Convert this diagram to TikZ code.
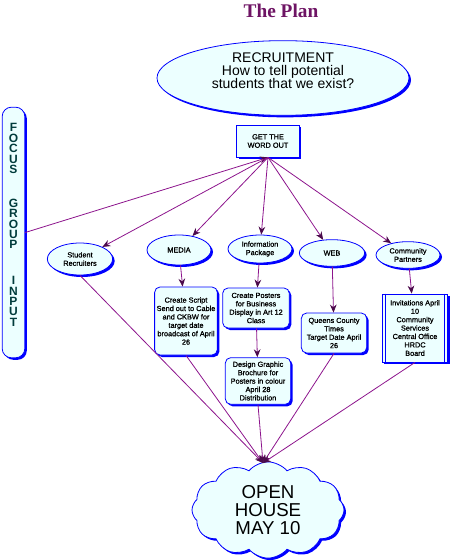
\documentclass[tikz,border=0pt]{standalone}
\usepackage{fontspec}
\setmainfont{Liberation Serif}
\setsansfont{Liberation Sans}
\newfontfamily\boxfont{Liberation Sans}[FakeBold=1]
\usetikzlibrary{shapes.geometric,shapes.symbols,shadows,arrows.meta}
\definecolor{cyanfill}{RGB}{236,255,255}
\definecolor{edgeblue}{RGB}{0,0,255}
\definecolor{linkpurple}{RGB}{140,20,140}
\definecolor{tippurple}{RGB}{75,10,75}
\definecolor{titlepurple}{RGB}{110,20,100}
\definecolor{lettercol}{RGB}{0,60,60}
\begin{document}
\begin{tikzpicture}
    [
        x=0.75pt, y=-0.75pt,
        small/.style={font=\boxfont\fontsize{5.5}{6.3}\selectfont},
        blueshadow/.style={drop shadow={shadow xshift=1.5pt, shadow yshift=-1.5pt, fill=edgeblue, opacity=1}},
        bubble/.style={ellipse, draw=edgeblue, fill=cyanfill, inner sep=0pt, line width=0.6pt, blueshadow, align=center},
        task/.style={rectangle, rounded corners=4pt, draw=edgeblue, fill=cyanfill, line width=0.6pt, blueshadow, align=center, inner sep=1.5pt, small},
        link/.style={draw=linkpurple, line width=0.6pt, -{Stealth[length=6pt, width=5pt, color=tippurple]}},
    ]
    \useasboundingbox (0,0) rectangle (450,560);
    \node[font=\rmfamily\bfseries\fontsize{14.5}{14.5}\selectfont, text=titlepurple] (title) at (281,11) {The Plan};
    \node[bubble, minimum width=189pt, minimum height=56pt, text depth=11pt, font=\sffamily\fontsize{10.5}{10}\selectfont] (rec) at (283,78) {RECRUITMENT\\How to tell potential\\students that we exist?};
    \node[task, rounded corners=0pt, minimum width=47pt, minimum height=24pt] (wo) at (268,141) {GET THE\\WORD OUT};
    \node[task, rounded corners=7pt, minimum width=17pt, minimum height=188pt] (fg) at (13.5,232.5) {};
    \node[align=center, inner sep=0pt, text=lettercol, font=\sffamily\bfseries\fontsize{9}{7.8}\selectfont] (fgtext) at (13.5,225) {F\\O\\C\\U\\S\\[17.5pt]G\\R\\O\\U\\P\\[19pt]I\\N\\P\\U\\T};

    \node[bubble, minimum width=49pt, minimum height=24pt, small] (sr) at (80,259) {Student\\Recruiters};
    \node[bubble, minimum width=48pt, minimum height=22.5pt, small] (media) at (179,250) {MEDIA};
    \node[bubble, minimum width=48pt, minimum height=21pt, small] (info) at (260,249) {Information\\Package};
    \node[bubble, minimum width=49pt, minimum height=20pt, small] (web) at (332,253) {WEB};
    \node[bubble, minimum width=48pt, minimum height=20pt, small] (cp) at (408,255) {Community\\Partners};

    \node[task, minimum width=47pt, minimum height=51pt] (script) at (186,321) {Create Script\\Send out to Cable\\and CKBW for\\target date\\broadcast of April\\26};
    \node[task, minimum width=50pt, minimum height=30pt] (posters) at (256,308) {Create Posters\\for Business\\Display in Art 12\\Class};
    \node[task, minimum width=49pt, minimum height=35pt] (brochure) at (258,381) {Design Graphic\\Brochure for\\Posters in colour\\April 28\\Distribution};
    \node[task, minimum width=49pt, minimum height=30pt] (times) at (334,333) {Queens County\\Times\\Target Date April\\26};
    \node[task, rounded corners=0pt, minimum width=49pt, minimum height=51pt] (invite) at (415,328) {Invitations April\\10\\Community\\Services\\Central Office\\HRDC\\Board};
    \draw[edgeblue, line width=0.6pt] ([xshift=2.5pt]invite.north west) -- ([xshift=2.5pt]invite.south west);
    \draw[edgeblue, line width=0.6pt] ([xshift=-2.5pt]invite.north east) -- ([xshift=-2.5pt]invite.south east);

    \node[cloud, cloud puffs=12, cloud puff arc=100, aspect=1.7, draw=edgeblue, fill=cyanfill, line width=0.6pt, blueshadow, minimum width=114pt, minimum height=66pt, align=center, font=\sffamily\fontsize{14}{13.5}\selectfont] (house) at (268,510) {OPEN\\HOUSE\\MAY 10};
    \coordinate (housein) at (263,463);

    \draw[link] (fg.east) -- (wo.south);
    \draw[link] (wo.south) -- (sr);
    \draw[link] (wo.south) -- (media);
    \draw[link] (wo.south) -- (info);
    \draw[link] (wo.south) -- (web);
    \draw[link] (wo.south) -- (cp);
    \draw[link] (media) -- (script);
    \draw[link] (info) -- (posters);
    \draw[link] (posters) -- (brochure);
    \draw[link] (web) -- (times);
    \draw[link] (cp) -- (invite);
    \draw[link] (sr.south) -- (housein);
    \draw[link] (script.south) -- (housein);
    \draw[link] (brochure.south) -- (housein);
    \draw[link] (times.south) -- (housein);
    \draw[link] (invite.south) -- (housein);
\end{tikzpicture}
\end{document}
